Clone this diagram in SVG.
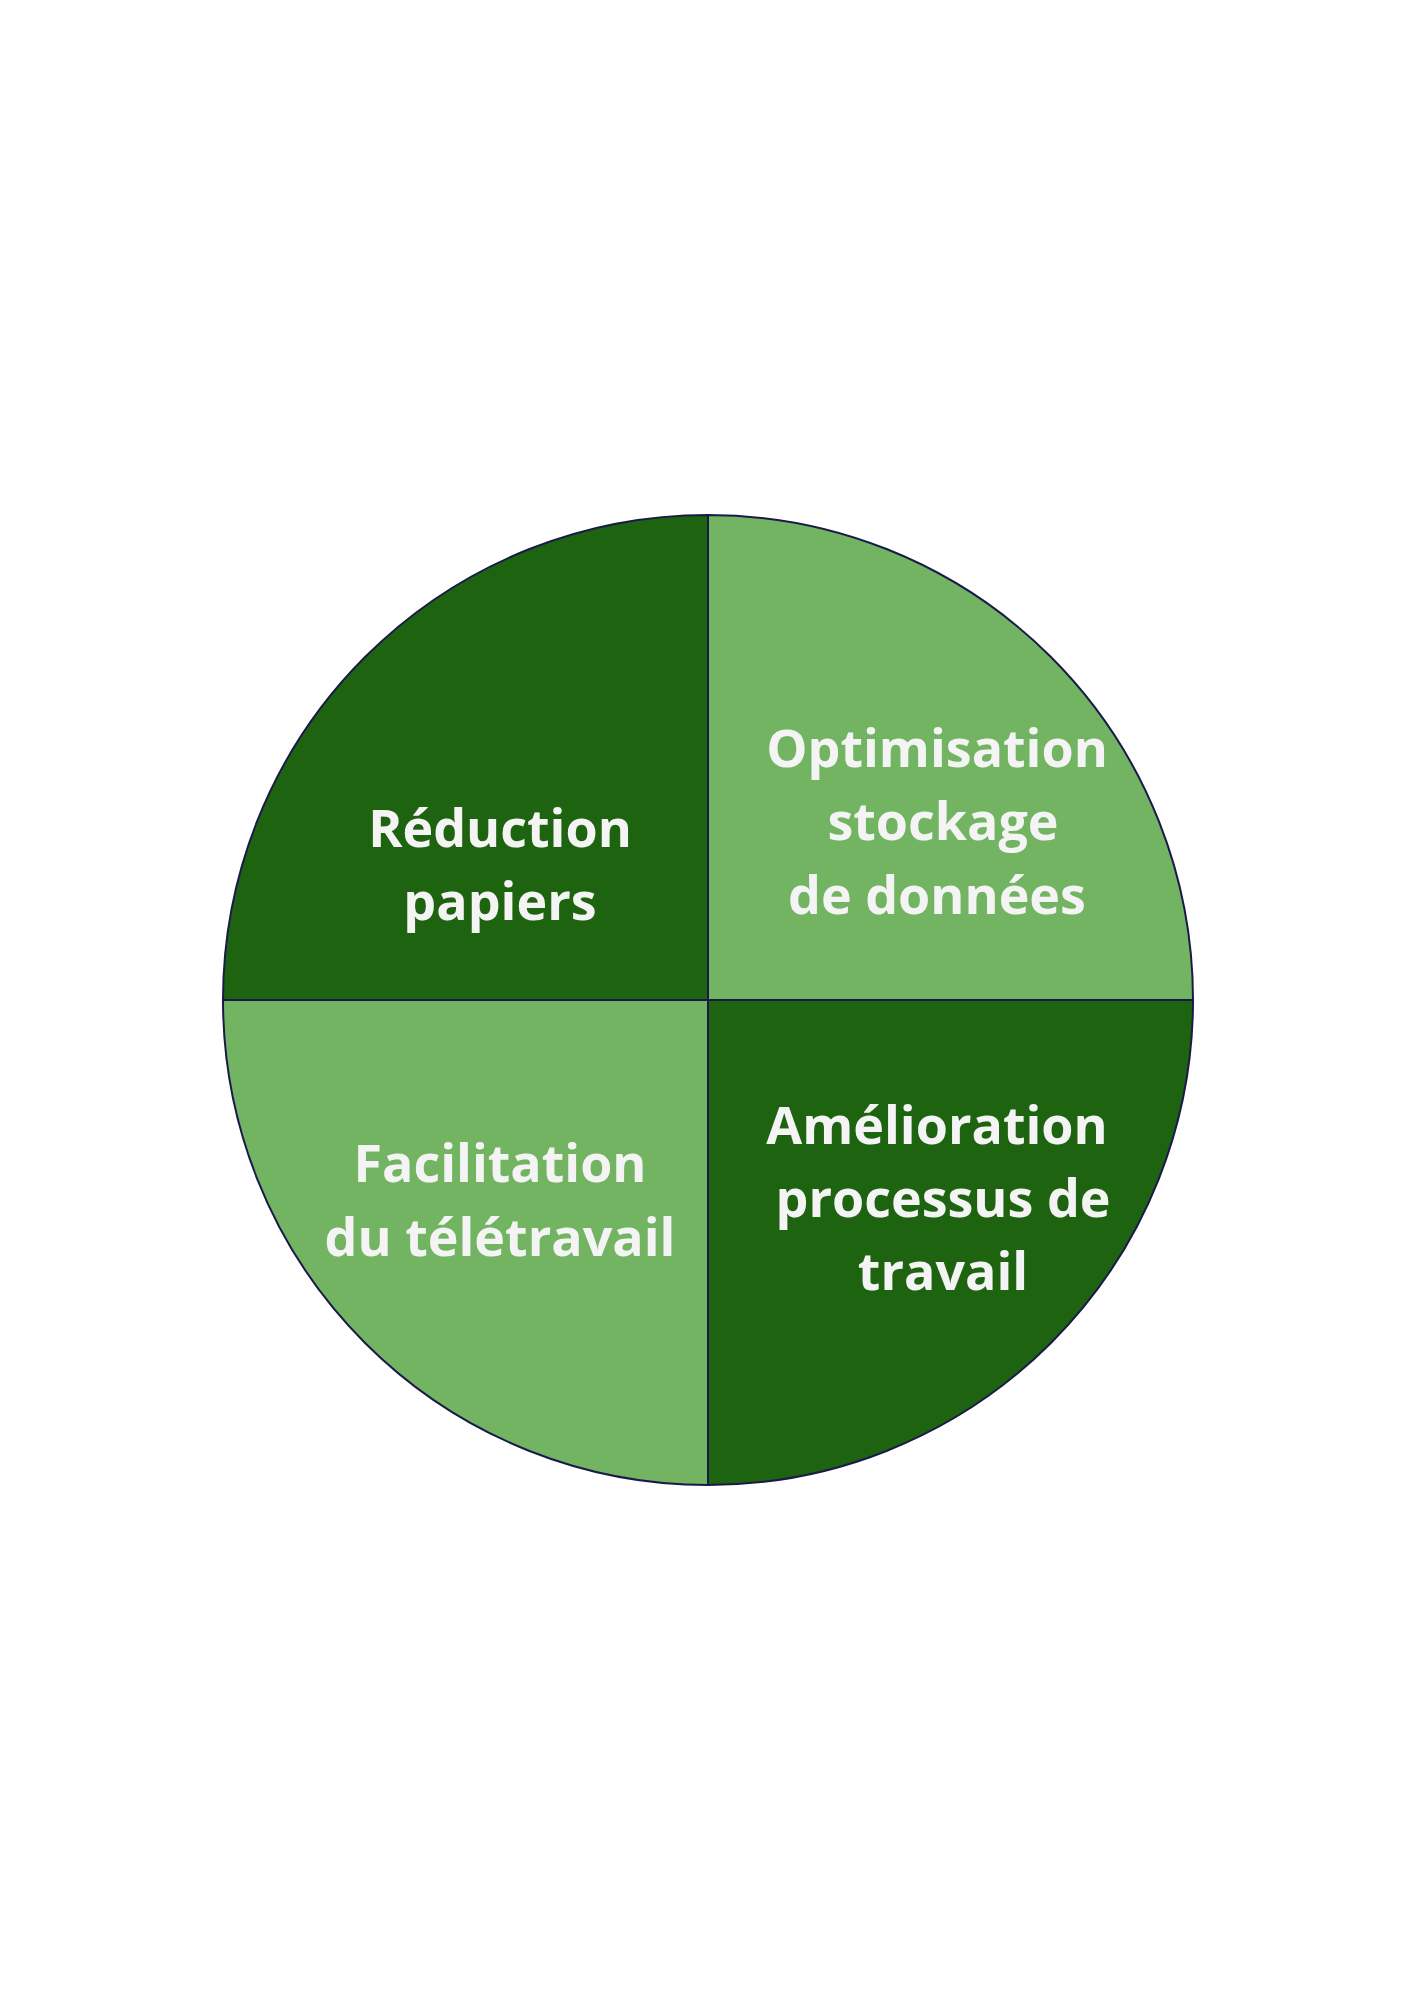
<svg xmlns="http://www.w3.org/2000/svg" width="1414" height="2000" viewBox="0 0 1414 2000">
<style>
.d{fill:#1e6410;stroke:#1a1a4a;stroke-width:2}
.l{fill:#72b462;stroke:#1a1a4a;stroke-width:2}
text{font-family:"Open Sans","Liberation Sans",sans-serif;font-weight:bold;font-size:52px;fill:#f4f4f4;text-anchor:middle}
</style>
<rect width="1414" height="2000" fill="#fff"/>
<g id="q1"><path class="d" d="M708 1000 L223 1000 A485 485 0 0 1 708 515 Z"/><text x="500" y="847">Réduction</text><text x="500" y="920">papiers</text></g>
<g id="q2"><path class="l" d="M708 1000 L708 515 A485 485 0 0 1 1193 1000 Z"/><text x="937" y="767">Optimisation</text><text x="943" y="840">stockage</text><text x="937" y="914">de données</text></g>
<g id="q3"><path class="l" d="M708 1000 L708 1485 A485 485 0 0 1 223 1000 Z"/><text x="500" y="1182">Facilitation</text><text x="500" y="1256">du télétravail</text></g>
<g id="q4"><path class="d" d="M708 1000 L1193 1000 A485 485 0 0 1 708 1485 Z"/><text x="937" y="1144">Amélioration</text><text x="943" y="1217">processus de</text><text x="943" y="1290">travail</text></g>
</svg>
